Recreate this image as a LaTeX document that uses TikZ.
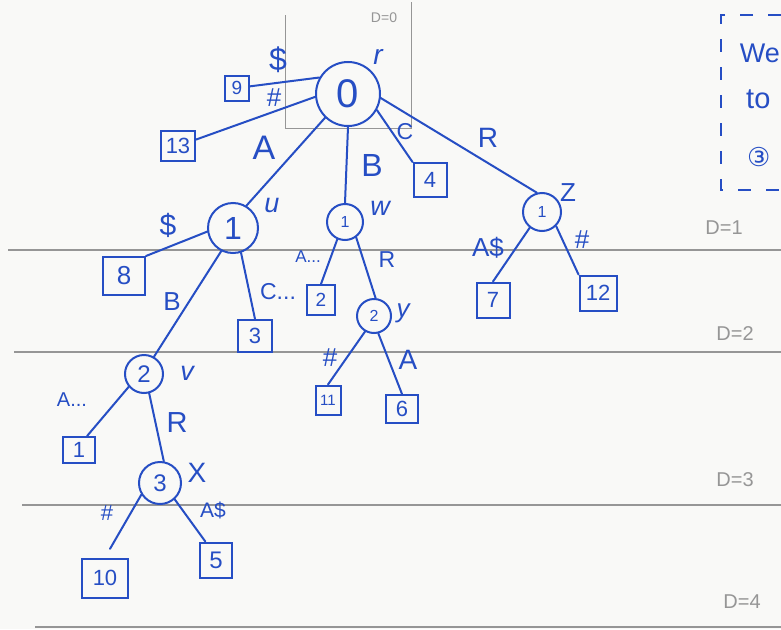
\documentclass[tikz,border=0pt]{standalone}
\usepackage{fontspec}
\setmainfont{Liberation Sans}
\newfontfamily\dejavu{DejaVu Sans}
\usepackage{xcolor}
\usepackage{tikz}
\definecolor{ink}{RGB}{38,78,196}
\definecolor{rule}{RGB}{150,150,150}
\definecolor{paper}{RGB}{249,249,247}

\begin{document}
\begin{tikzpicture}[x=1pt,y=-1pt,
inode/.style={circle,draw=ink,line width=2pt,inner sep=0pt,text=ink},
leaf/.style={rectangle,draw=ink,line width=2pt,inner sep=0pt,text=ink,font=\fontsize{22}{22}\selectfont},
big/.style={text=ink,inner sep=0pt,font=\fontsize{32}{32}\selectfont},
mid/.style={text=ink,inner sep=0pt,font=\fontsize{26}{26}\selectfont},
small/.style={text=ink,inner sep=0pt,font=\fontsize{20}{20}\selectfont},
depth/.style={text=rule,inner sep=0pt,font=\fontsize{20}{20}\selectfont},
edge/.style={draw=ink,line width=2pt,line cap=round}]
\fill[paper] (0,0) rectangle (781,629);
\useasboundingbox (0,0) rectangle (781,629);
\draw[rule,line width=1.3pt] (8,250) -- (781,250);
\draw[rule,line width=1.3pt] (14,352) -- (781,352);
\draw[rule,line width=1.3pt] (22,505) -- (781,505);
\draw[rule,line width=1.3pt] (35,627) -- (781,627);
\draw[rule,line width=1pt] (285,15) -- (285,128) -- (411,128) -- (411,2);
\node[depth,font=\fontsize{14}{14}\selectfont] (d0) at (384,18) {D=0};
\node[depth] (d1) at (724,228) {D=1};
\node[depth] (d2) at (735,334) {D=2};
\node[depth] (d3) at (735,480) {D=3};
\node[depth] (d4) at (742,602) {D=4};
\draw[ink,line width=1.5pt,dash pattern=on 13pt off 15pt] (781,15) -- (721,15) -- (721,190) -- (781,190);
\node[mid,anchor=east,font=\fontsize{27}{27}\selectfont] (we) at (780,53) {We};
\node[mid,anchor=west,font=\fontsize{29}{29}\selectfont] (to) at (746,99) {to};
\node[mid,anchor=west,font=\dejavu\fontsize{26}{26}\selectfont] (c3) at (747,157) {③};

\node[inode,minimum size=64pt,font=\fontsize{40}{40}\selectfont] (r) at (348,94) {0};
\node[inode,minimum size=50pt,font=\fontsize{32}{32}\selectfont] (u) at (233,228) {1};
\node[inode,minimum size=36pt,font=\fontsize{16}{16}\selectfont] (w) at (345,222) {1};
\node[inode,minimum size=38pt,font=\fontsize{16}{16}\selectfont] (z) at (542,212) {1};
\node[inode,minimum size=38pt,font=\fontsize{24}{24}\selectfont] (v) at (144,374) {2};
\node[inode,minimum size=34pt,font=\fontsize{16}{16}\selectfont] (y) at (374,316) {2};
\node[inode,minimum size=42pt,font=\fontsize{24}{24}\selectfont] (x) at (160,483) {3};

\node[leaf,minimum width=24pt,minimum height=25pt,font=\fontsize{19}{19}\selectfont] (n9) at (237,88) {9};
\node[leaf,minimum width=34pt,minimum height=30pt] (n13) at (178,146) {13};
\node[leaf,minimum width=33pt,minimum height=34pt] (n4) at (430,180) {4};
\node[leaf,minimum width=42pt,minimum height=38pt,font=\fontsize{26}{26}\selectfont] (n8) at (124,276) {8};
\node[leaf,minimum width=34pt,minimum height=32pt] (n3) at (255,336) {3};
\node[leaf,minimum width=28pt,minimum height=30pt,font=\fontsize{19}{19}\selectfont] (n2) at (321,300) {2};
\node[leaf,minimum width=33pt,minimum height=35pt] (n7) at (493,300) {7};
\node[leaf,minimum width=37pt,minimum height=35pt] (n12) at (598,293) {12};
\node[leaf,minimum width=25pt,minimum height=29pt,font=\fontsize{15}{15}\selectfont] (n11) at (328,400) {11};
\node[leaf,minimum width=32pt,minimum height=28pt] (n6) at (402,409) {6};
\node[leaf,minimum width=32pt,minimum height=26pt] (n1) at (79,450) {1};
\node[leaf,minimum width=46pt,minimum height=39pt] (n10) at (105,578) {10};
\node[leaf,minimum width=32pt,minimum height=35pt,font=\fontsize{24}{24}\selectfont] (n5) at (216,560) {5};

\draw[edge] (r.150) -- (n9);
\draw[edge] (r.185) -- (n13);
\draw[edge] (r.226) -- (u.59);
\draw[edge] (r.270) -- (w.north);
\draw[edge] (r.331) -- (n4.north west);
\draw[edge] (r.353) -- (z.105);
\draw[edge] (u.188) -- (n8.north east);
\draw[edge] (u.243) -- (v.60);
\draw[edge] (u.288) -- (n3.north);
\draw[edge] (w.246) -- (n2.north);
\draw[edge] (w.306) -- (y.85);
\draw[edge] (z.232) -- (n7.north);
\draw[edge] (z.315) -- (n12.north west);
\draw[edge] (y.240) -- (n11.north);
\draw[edge] (y.284) -- (n6.north);
\draw[edge] (v.220) -- (n1.60);
\draw[edge] (v.285) -- (x.80);
\draw[edge,shorten >=10pt] (x.212) -- (n10.north);
\draw[edge] (x.312) -- (n5.120);

\node[big] (l9) at (278,60) {\$};
\node[mid] (l13) at (274,98) {\#};
\node[mid,font=\itshape\fontsize{28}{28}\selectfont] (lr) at (378,57) {r};
\node[big,font=\fontsize{34}{34}\selectfont] (lu) at (264,148) {A};
\node[big] (lw) at (372,165) {B};
\node[mid,font=\fontsize{23}{23}\selectfont] (l4) at (405,132) {C};
\node[mid,font=\fontsize{28}{28}\selectfont] (lz) at (488,138) {R};
\node[mid,font=\itshape\fontsize{27}{27}\selectfont] (nu) at (272,205) {u};
\node[mid,font=\itshape\fontsize{27}{27}\selectfont] (nw) at (380,208) {w};
\node[mid] (nz) at (568,193) {Z};
\node[big,font=\fontsize{30}{30}\selectfont] (l8) at (168,225) {\$};
\node[mid] (lv) at (172,302) {B};
\node[mid,font=\fontsize{23}{23}\selectfont] (l3) at (278,292) {C...};
\node[small,font=\fontsize{17}{17}\selectfont] (l2) at (308,257) {A...};
\node[small,font=\fontsize{23}{23}\selectfont] (ly) at (387,260) {R};
\node[mid,font=\itshape\fontsize{26}{26}\selectfont] (ny) at (403,313) {y};
\node[mid] (l7) at (488,248) {A\$};
\node[mid] (l12) at (582,240) {\#};
\node[mid] (l11) at (330,358) {\#};
\node[mid,font=\fontsize{28}{28}\selectfont] (l6) at (408,360) {A};
\node[mid,font=\itshape\fontsize{27}{27}\selectfont] (nv) at (187,373) {v};
\node[small] (l1) at (72,400) {A...};
\node[mid,font=\fontsize{29}{29}\selectfont] (lx) at (177,423) {R};
\node[mid,font=\fontsize{28}{28}\selectfont] (nx) at (197,473) {X};
\node[small,font=\fontsize{22}{22}\selectfont] (l10) at (107,513) {\#};
\node[small,font=\fontsize{21}{21}\selectfont] (l5) at (213,510) {A\$};
\end{tikzpicture}
\end{document}
